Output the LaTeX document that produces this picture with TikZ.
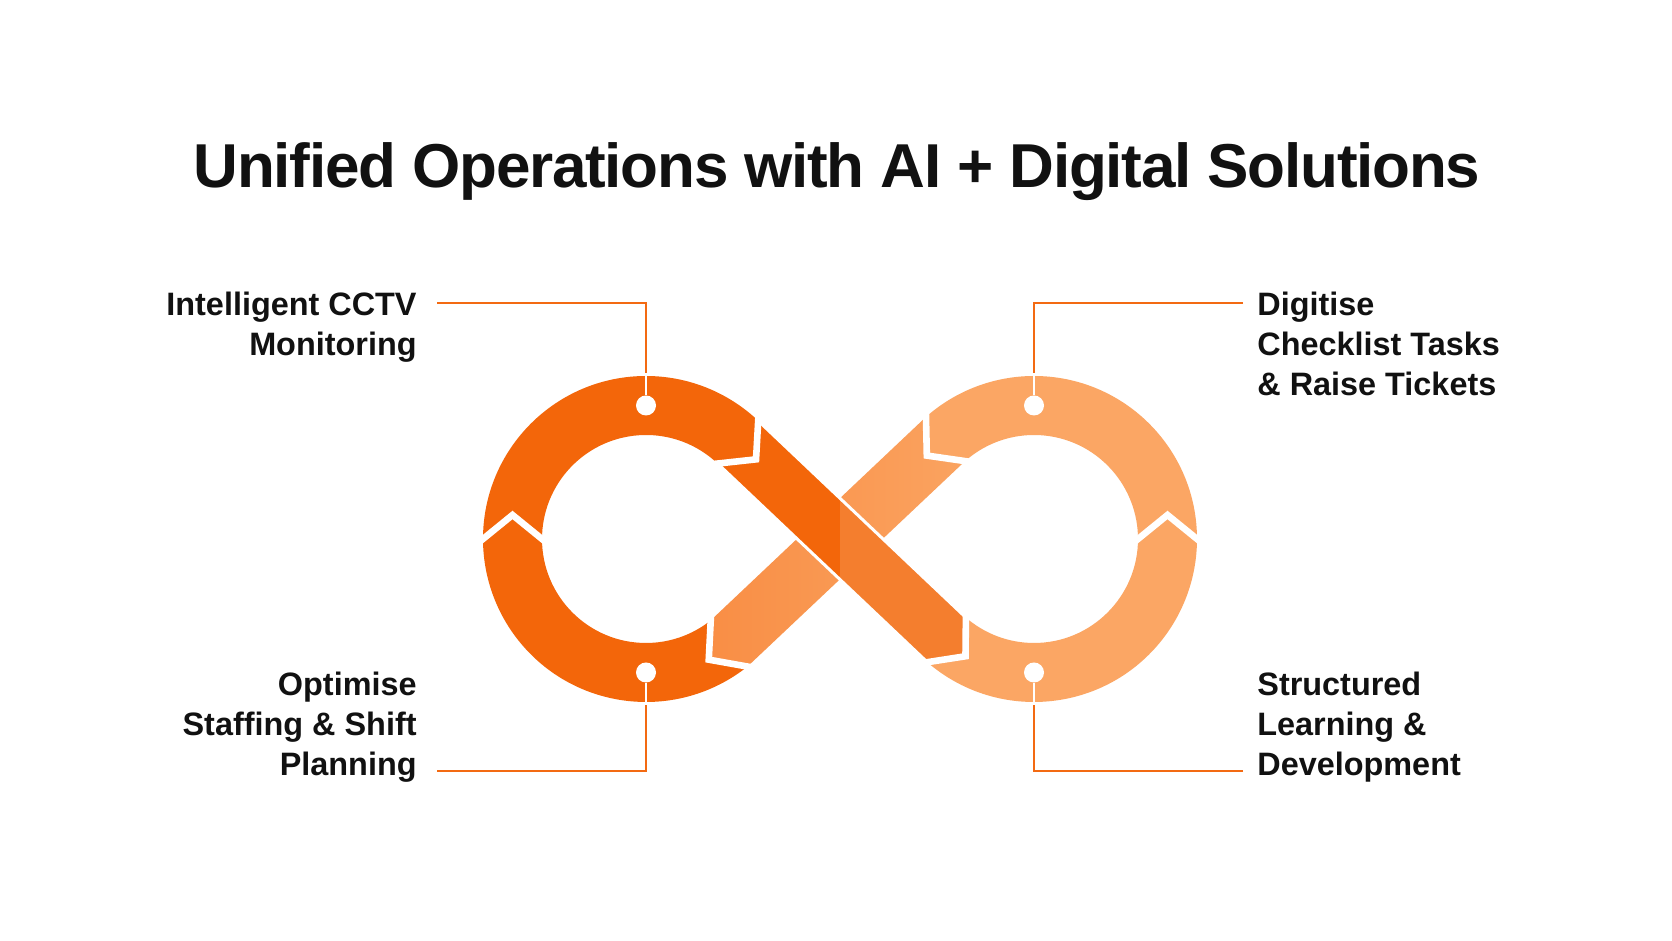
\documentclass[tikz,border=0pt]{standalone}
\usepackage{fontspec}
\setmainfont{Liberation Sans}
\newfontfamily\titlefam[LetterSpace=-2.0]{Liberation Sans}
\usetikzlibrary{calc}
\definecolor{darkor}{HTML}{F3660A}
\definecolor{lightor}{HTML}{FBA664}
\definecolor{medor}{HTML}{F47E2E}
\definecolor{ascA}{HTML}{F98E45}
\definecolor{ascB}{HTML}{FAA360}
\definecolor{connor}{HTML}{F36A12}
\definecolor{inkc}{HTML}{111111}
\pgfdeclarelayer{bg}
\pgfsetlayers{bg,main}
\tikzset{
  sepline/.style={white, line width=3.3pt, shorten <=-3pt, shorten >=-3pt},
  conn/.style={draw=connor, line width=1.4pt},
  inring/.style={draw=white, line width=1.4pt},
  dotn/.style={circle, fill=white, inner sep=0pt, minimum size=10pt},
  labl/.style={font=\bfseries\fontsize{16.2}{19.8}\selectfont, text=inkc, inner sep=0pt},
  titlet/.style={font=\titlefam\bfseries\fontsize{31}{37}\selectfont, text=inkc, inner sep=0pt, anchor=base}
}
\begin{document}
\begin{tikzpicture}[x=0.5pt,y=0.5pt]
\useasboundingbox (0,0) rectangle (1672,941);
\begin{pgfonlayer}{bg}
\fill[white] (0,0) rectangle (1672,941);
\end{pgfonlayer}

% centres
\coordinate (L) at (646,402);
\coordinate (R) at (1034,402);

% stations
\coordinate (O1) at ($(L)+(180:163)$);
\coordinate (I1) at ($(L)+(180:104)$);
\coordinate (A1) at ($(L)+(180:133.5)+(90:24)$);
\coordinate (O2) at ($(L)+(46.5:163)$);
\coordinate (I2) at ($(L)+(46.5:104)$);
\coordinate (A2) at ($(L)+(46.5:133.5)+(-43.5:25)$);
\coordinate (O6) at ($(L)+(-51.5:163)$);
\coordinate (I6) at ($(L)+(-51.5:104)$);
\coordinate (A6) at ($(L)+(-51.5:133.5)+(-141.5:26)$);
\coordinate (O3) at ($(R)+(229.1:163)$);
\coordinate (I3) at ($(R)+(229.1:104)$);
\coordinate (A3) at ($(R)+(229.1:133.5)+(319.1:25)$);
\coordinate (O4) at ($(R)+(0:163)$);
\coordinate (I4) at ($(R)+(0:104)$);
\coordinate (A4) at ($(R)+(0:133.5)+(90:24)$);
\coordinate (O5) at ($(R)+(131.5:163)$);
\coordinate (I5) at ($(R)+(131.5:104)$);
\coordinate (A5) at ($(R)+(131.5:133.5)+(221.5:25)$);

% ascending band (under)
\shade[left color=ascA, right color=ascB] (O5) -- (I6) -- (A6) -- (O6) -- (I5) -- (A5) -- cycle;

% left loop
\fill[darkor] (O1) arc[start angle=180,end angle=46.5,radius=163] -- (A2) -- (I2)
  arc[start angle=46.5,end angle=180,radius=104] -- (A1) -- cycle;
\fill[darkor] (O6) arc[start angle=-51.5,end angle=-180,radius=163] -- (A1) -- (I1)
  arc[start angle=-180,end angle=-51.5,radius=104] -- (A6) -- cycle;
% right loop
\fill[lightor] (O3) arc[start angle=229.1,end angle=360,radius=163] -- (A4) -- (I4)
  arc[start angle=360,end angle=229.1,radius=104] -- (A3) -- cycle;
\fill[lightor] (O4) arc[start angle=0,end angle=131.5,radius=163] -- (A5) -- (I5)
  arc[start angle=131.5,end angle=0,radius=104] -- (A4) -- cycle;

% descending band (over)
\begin{scope}
\clip (0,0) rectangle (840,941);
\fill[darkor] (O2) -- (I3) -- (A3) -- (O3) -- (I2) -- (A2) -- cycle;
\end{scope}
\begin{scope}
\clip (840,0) rectangle (1672,941);
\fill[medor] (O2) -- (I3) -- (A3) -- (O3) -- (I2) -- (A2) -- cycle;
\end{scope}
\draw[white, line width=1.5pt] (O2) -- (I3) (O3) -- (I2);

% separators
\draw[sepline] (O1) -- (A1) -- (I1);
\draw[sepline] (O2) -- (A2) -- (I2);
\draw[sepline] (O3) -- (A3) -- (I3);
\draw[sepline] (O4) -- (A4) -- (I4);
\draw[sepline] (O5) -- (A5) -- (I5);
\draw[sepline] (O6) -- (A6) -- (I6);

% dots
\node[dotn] (d1) at ($(L)+(90:133.5)$) {};
\node[dotn] (d2) at ($(L)+(-90:133.5)$) {};
\node[dotn] (d3) at ($(R)+(90:133.5)$) {};
\node[dotn] (d4) at ($(R)+(-90:133.5)$) {};
\coordinate (e1) at ($(L)+(90:166)$);
\coordinate (e2) at ($(L)+(-90:166)$);
\coordinate (e3) at ($(R)+(90:166)$);
\coordinate (e4) at ($(R)+(-90:166)$);
\draw[inring] (d1) -- (e1);
\draw[inring] (d2) -- (e2);
\draw[inring] (d3) -- (e3);
\draw[inring] (d4) -- (e4);

% labels
\node[labl, anchor=north east, align=right] (t1) at (417,649) {Intelligent CCTV\\Monitoring};
\node[labl, anchor=north east, align=right] (t2) at (417,269) {Optimise\\Staffing \& Shift\\Planning};
\node[labl, anchor=north west, align=left] (t3) at (1257,649) {Digitise\\Checklist Tasks\\\& Raise Tickets};
\node[labl, anchor=north west, align=left] (t4) at (1257,269) {Structured\\Learning \&\\Development};

\coordinate (c1) at (437,638);
\coordinate (c2) at (437,170);
\coordinate (c3) at (1243,638);
\coordinate (c4) at (1243,170);
\begin{pgfonlayer}{bg}
\draw[conn] (c1) -| (d1);
\draw[conn] (c2) -| (d2);
\draw[conn] (c3) -| (d3);
\draw[conn] (c4) -| (d4);
\end{pgfonlayer}

% title
\node[titlet] (title) at (837,753) {Unified Operations with AI + Digital Solutions};
\end{tikzpicture}
\end{document}
